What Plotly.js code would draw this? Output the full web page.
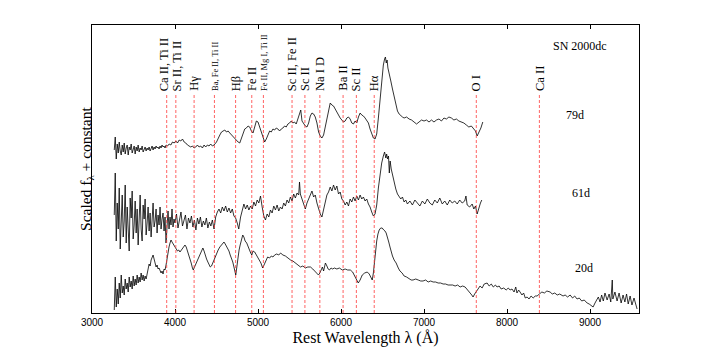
<!DOCTYPE html>
<html><head><meta charset="utf-8">
<script src="https://cdn.plot.ly/plotly-3.0.1.min.js"></script>
<style>html,body{margin:0;padding:0;background:#fff}#c{width:706px;height:353px}</style>
</head><body><div id="c"></div>
<script>
// Spectrum 79d
const wl79 = [3268,3280,3292,3304,3316,3328,3340,3352,3364,3376,3388,3400,3412,3424,3436,3448,3460,3472,3484,3496,3508,3520,3532,3544,3556,3568,3580,3592,3604,3616,3628,3640,3652,3664,3676,3688,3700,3712,3724,3736,3748,3760,3772,3784,3796,3808,3820,3832,3844,3856,3868,3880,3892,
3910,3930,3950,3970,3990,4010,4030,4050,4070,4090,4110,4130,4150,4170,4190,4210,4230,4250,4270,4290,4310,4330,4350,4370,4390,4410,4430,4450,4470,
4500,4520,4540,4560,4580,4600,4620,4640,4660,4680,4700,4720,4740,4760,4780,4800,4820,4840,4860,4880,4900,4920,4940,4960,4980,5000,5020,5040,5060,5080,5100,5120,5140,5160,5180,5200,5220,5240,5260,5280,5300,5320,5340,5360,5380,5400,5420,5440,5460,5480,5500,5515,5530,5550,5570,5590,5610,5630,5650,5670,5690,5710,5730,5750,5770,5790,5810,5830,5850,5870,5890,5910,5930,5950,5970,5990,6010,6030,6050,6070,6090,6110,6130,6150,6170,6190,6210,6230,6250,6270,6290,6310,6330,6350,6370,6390,6410,6430,6450,6470,6490,6510,6525,6535,6545,6555,6565,6580,6600,6620,6640,6660,6680,6700,6720,6740,6760,6790,6820,6850,6880,6910,6940,6970,7000,7030,7060,7090,7120,7150,7180,7210,7240,7270,7300,7330,7360,7390,7420,7450,7480,7510,7540,7570,7600,7620,7640,7660,7685,7708];
const f79  = [163,176,154,169,160,171,162,158,168,161,170,159,165,168,158,166,163,169,160,164,167,159,166,162,168,161,165,163,167,161,164,166,162,165,163,166,162,165,167,163,166,164,167,165,166,164,167,165,168,166,167,165,168,
167,169,168,171,170,172,170,173,172,174,171,170,168,167,166,167,165,166,168,166,167,165,168,166,168,167,169,167,168,
171,175,178,181,182,183,181,182,180,178,176,175,173,171,170,175,180,184,185,187,186,182,180,185,192,191,186,180,174,171,174,179,182,181,184,183,185,184,182,184,185,187,186,189,190,192,190,191,189,194,199,203,192,189,187,186,190,197,200,199,196,190,181,177,175,178,187,196,204,210,208,207,204,201,197,195,193,191,192,195,196,194,190,189,192,190,196,200,198,197,195,193,190,184,179,175,174,179,195,215,235,248,254,256,250,253,245,238,232,224,216,208,202,199,197,196,195,196,194,193,191,189,191,193,192,193,191,193,191,193,194,192,195,194,196,195,193,194,192,191,190,188,186,187,184,182,177,180,185,191];
// Spectrum 61d
const wl61 = [3268,3280,3292,3304,3316,3328,3340,3352,3364,3376,3388,3400,3412,3424,3436,3448,3460,3472,3484,3496,3508,3520,3532,3544,3556,3568,3580,3592,3604,3616,3628,3640,3652,3664,3676,3688,3700,3712,3724,3736,3748,3760,3772,3784,3796,3808,3820,3832,3844,3856,3868,3880,3892,3904,3916,3928,3940,3952,3964,3976,3988,4000,
4018,4036,4054,4072,4090,4108,4126,4144,4162,4180,4198,4216,4234,4252,4270,4288,4306,4324,4342,4360,4378,4396,4414,4432,4450,4470,
4490,4510,4530,4550,4570,4590,4610,4630,4650,4670,4690,4710,4730,4750,4768,4790,4810,4830,4850,4870,4890,4910,4930,4950,4970,4990,5010,5030,5050,5070,5090,5110,5130,5150,5170,5190,5210,5230,5250,5270,5290,5310,5330,5350,5370,5390,5410,5430,5450,5470,5490,5500,5510,5530,5550,5570,5590,5610,5630,5650,5670,5690,5710,5730,5750,5770,5790,5810,5830,5850,5870,5890,5910,5930,5950,5970,5990,6010,6030,6050,6070,6090,6110,6130,6150,6170,6190,6210,6230,6250,6270,6290,6310,6330,6350,6370,6390,6410,6430,6450,6470,6490,6510,6525,6540,6550,6560,6572,6582,6592,6605,6620,6640,6660,6680,6700,6720,6740,6760,6780,6800,
6830,6860,6890,6920,6950,6980,7010,7040,7070,7100,7130,7160,7190,7220,7250,7280,7310,7340,7370,7400,7430,7460,7490,7505,7520,7550,7580,7600,7620,7640,7660,7680,7696];
const f61  = [98,140,72,110,84,125,64,100,118,76,92,128,70,106,82,62,115,95,122,74,88,112,80,104,68,98,118,84,72,108,94,114,78,90,106,82,100,76,96,110,86,92,104,80,98,88,106,84,94,100,82,96,70,92,102,84,96,88,104,86,94,90,
99,85,94,101,87,92,98,84,95,90,97,86,93,83,95,89,96,86,92,88,95,85,91,87,93,84,
96,101,104,100,106,102,107,101,105,100,104,97,95,90,84,96,103,109,104,108,103,107,104,111,107,113,110,117,106,97,93,99,96,103,100,107,103,108,102,106,104,110,107,113,110,116,112,119,115,120,118,131,119,114,108,104,110,114,119,122,116,118,110,103,99,96,103,110,118,121,126,122,128,123,127,119,121,114,112,108,111,107,114,111,116,112,117,113,118,114,116,112,114,109,106,101,97,99,108,125,140,150,157,161,155,159,154,157,140,152,144,138,130,124,119,116,114,116,111,113,109,
112,108,113,110,107,112,109,114,110,108,113,110,115,109,112,108,113,110,112,109,113,110,112,117,108,106,109,104,107,99,106,110,113];
// Spectrum 20d
const wl20 = [3268,3280,3292,3304,3316,3328,3340,3352,3364,3376,3388,3400,3412,3424,3436,3448,3460,3472,3484,3496,3508,3520,3532,3544,3556,3568,3580,3592,3604,3616,3628,3640,3652,3664,3676,3688,3700,3712,3724,3736,3748,3760,3772,3784,3796,3808,3820,3832,3844,3856,3868,3880,3892,3904,3916,3928,3940,3952,3964,3976,3988,4000,
4015,4030,4045,4060,4075,4090,4105,4120,4135,4150,4165,4180,4195,4210,4220,4235,4250,4265,4280,4295,4310,4325,4336,4350,4365,4380,4396,4410,4425,4440,4455,4470,4485,4500,4520,4540,4560,4575,4590,4605,4620,4635,4650,4665,4680,4696,4710,4722,4732,4745,4760,4772,4785,4800,4816,4830,4845,4864,4880,4895,4912,4925,4940,4960,4980,5000,5020,5035,5056,5075,5095,5116,5140,5160,5180,5200,5225,5250,5272,5300,5330,5360,5392,5420,5450,5480,5512,5540,5570,5600,5632,5660,5690,5710,5728,5745,5760,5776,5790,5800,5812,5830,5845,5860,5880,5900,5920,5950,5980,6016,6050,6080,6112,6140,6165,6185,6208,6230,6256,6285,6316,6340,6360,6376,6390,6412,6430,6445,6460,6478,6496,6515,6530,6544,6560,6575,6590,6604,6620,6640,6664,6690,6710,6736,6760,6790,6820,6845,6868,6900,6930,6960,6988,7020,7050,7080,7110,7140,7170,7200,7230,7260,7290,7314,7345,7375,7405,7435,7465,7495,7520,7540,7555,7575,7591,7610,7630,7651,7675,7700,7725,7760,7785,7810,7835,7860,7880,7905,7930,7960,7990,8015,8037,8060,8085,8105,8120,8140,8157,8180,8200,8220,8242,8265,8290,8315,8340,8362,8390,8420,8450,8480,8519,8545,8575,8605,8635,8675,8700,8730,8760,8790,8815,8844,8870,8900,8930,8965,8990,9010,9037,9060,9080,9100,9121,9140,9160,9180,9206,9230,9250,9262,9268,9275,9300,9326,9350,9375,9398,9420,9440,9460,9483,9505,9530,9550,9567];
const f20  = [3,36,6,24,9,30,15,38,20,27,18,34,24,30,21,36,26,32,24,37,27,34,28,38,30,36,31,40,33,38,32,37,34,42,44,49,47,53,56,58,54,50,46,48,44,45,41,40,42,39,44,43,48,55,61,66,70,73,71,69,67,66,
64,62,63,61,63,65,67,68,66,62,58,56,50,45,43,46,49,52,54,57,61,64,65,62,57,54,51,48,46,47,50,54,57,60,63,66,68,70,71,69,67,65,62,58,55,51,46,41,38,46,57,63,68,74,78,76,72,70,66,62,60,58,62,61,58,56,53,50,45,49,53,56,55,57,56,58,59,58,60,58,57,55,53,52,50,48,46,47,45,46,46,44,41,39,38,40,44,46,42,48,50,47,44,43,45,44,45,44,45,43,44,43,43,41,37,33,30,33,38,40,41,39,36,33,40,60,72,79,83,85,85,83,82,80,76,71,66,61,57,53,50,45,42,40,37,36,34,33,33,34,33,32,32,33,31,32,31,31,30,30,29,29,28,28,28,27,28,26,27,26,23,21,20,18,16,19,21,24,27,25,29,30,27,29,26,28,26,27,24,25,23,25,23,24,21,26,20,23,21,18,20,15,16,14,17,15,17,17,19,21,20,22,21,19,20,18,19,17,18,16,18,15,17,14,15,12,13,10,9,8,6,10,13,16,11,18,12,20,13,19,11,22,33,14,21,12,20,10,18,11,19,9,17,8,15,9,4];
// Line identifications
const lineWl = [3900,4010,4230,4475,4730,4925,5065,5410,5565,5745,6025,6185,6400,7630,8390];
const lineLbl = ["Ca II, Ti II","Sr II, Ti II","Hγ","Ba,\u00A0Fe\u00A0II,\u00A0Ti\u00A0II","Hβ","Fe II","Fe\u00A0II,\u00A0Mg\u00A0I,\u00A0Ti\u00A0II","Sc II, Fe II","Sc II","Na I D","Ba II","Sc II","Hα","O I","Ca II"];
const smallLbl = [false,false,false,true,false,false,true,false,false,false,false,false,false,false,false];
// Epoch labels
const epochTxt = ["SN 2000dc","79d","61d","20d"];
const epochWl = [8880,8820,8892,8928];
const epochF = [267,198,120,45];

const serif = "Liberation Serif";
const spec = (x,y)=>({x:x,y:y,type:"scatter",mode:"lines",line:{color:"#000",width:0.8},hoverinfo:"skip",showlegend:false});
const traces = [spec(wl79,f79),spec(wl61,f61),spec(wl20,f20)];

const shapes = lineWl.map(w=>({type:"line",xref:"x",yref:"paper",x0:w,x1:w,y0:0,y1:0.757,line:{color:"rgba(255,60,60,0.8)",width:1,dash:"3px,2px"}}));
const shiftX = [-3,1,0,0,0,0,0,0,0,0,0,0,0,0,0];
const ann = lineWl.map((w,i)=>({x:w,y:0.767,xref:"x",yref:"paper",text:smallLbl[i]?lineLbl[i].replace(/ /g,"\u00A0\u00A0"):lineLbl[i],textangle:-90,showarrow:false,xanchor:"center",yanchor:"bottom",borderpad:0,xshift:shiftX[i],font:{family:serif,size:smallLbl[i]?8.5:12.5,color:"#000"}}));
epochTxt.forEach((t,i)=>ann.push({x:epochWl[i],y:epochF[i],xref:"x",yref:"y",text:t,showarrow:false,font:{family:serif,size:12,color:"#000"}}));
ann.push({x:-0.011,y:0.5,xref:"paper",yref:"paper",text:"Scaled f<sub>λ</sub> + constant",textangle:-90,showarrow:false,xanchor:"center",yanchor:"middle",font:{family:serif,size:15.5,color:"#000"}});

const layout = {
  width:706,height:353,margin:{l:92,r:67,t:25,b:40},
  paper_bgcolor:"#fff",plot_bgcolor:"#fff",
  xaxis:{range:[3000,9590],showgrid:false,zeroline:false,showline:true,linecolor:"#000",linewidth:1,mirror:"ticks",ticks:"inside",ticklen:4,tickcolor:"#000",dtick:1000,tick0:3000,tickfont:{family:"Liberation Sans",size:10,color:"#000"},
    title:{text:"Rest Wavelength λ (Å)",font:{family:serif,size:16,color:"#000"},standoff:4}},
  yaxis:{range:[0,288],showgrid:false,zeroline:false,showline:true,linecolor:"#000",linewidth:1,mirror:true,ticks:"",showticklabels:false},
  shapes:shapes,annotations:ann
};
Plotly.newPlot("c",traces,layout,{displayModeBar:false,staticPlot:true});
</script></body></html>
